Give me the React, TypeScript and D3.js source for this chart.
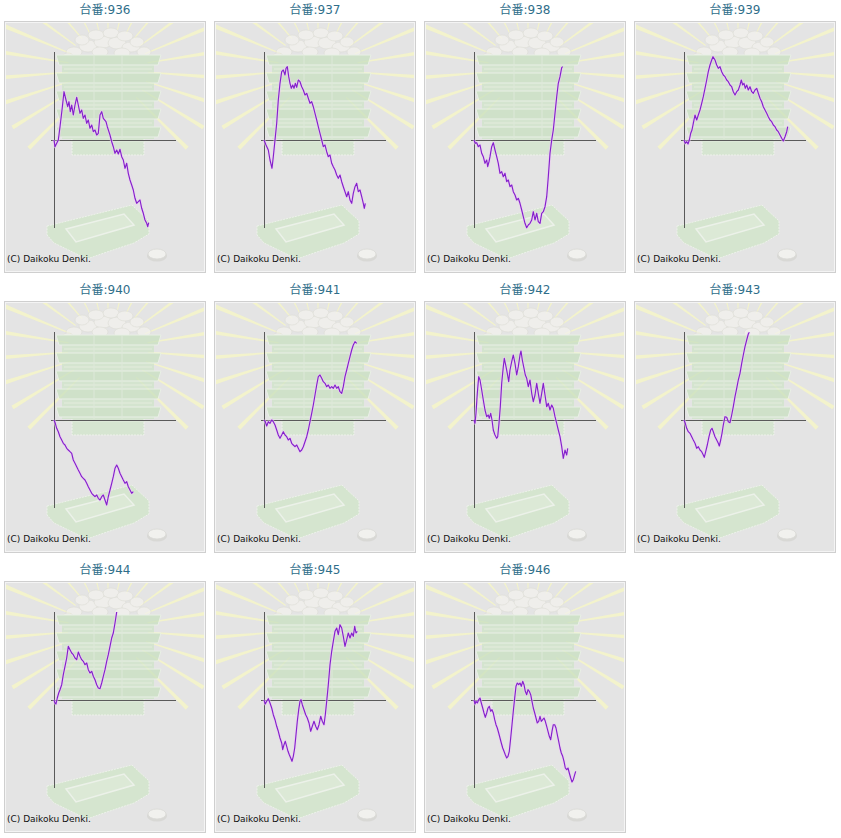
import * as d3 from 'd3';

// 台番ごとの差枚グラフ (x: ゲーム数, y: 差枚)
const machineNumbers = ['936', '937', '938', '939', '940', '941', '942', '943', '944', '945', '946'];

type Pt = [number, number];

const s936: Pt[] = [[0,0],[100,-670],[270,-330],[430,0],[600,1330],[800,3000],[1000,4830],[1200,4000],[1370,3330],[1500,3830],[1630,2830],[1770,3500],[1930,2500],[2100,3500],[2270,4270],[2430,3500],[2600,2670],[2770,3000],[2930,2170],[3100,2500],[3270,1670],[3430,2000],[3600,1170],[3770,1500],[3930,830],[4100,1000],[4270,500],[4430,670],[4600,2500],[4770,2830],[4930,2170],[5200,1830],[5330,1330],[5600,500],[5770,-170],[5930,-670],[6100,-1330],[6270,-1000],[6430,-1400],[6600,-930],[6770,-1670],[6930,-2000],[7100,-2830],[7270,-2330],[7430,-3330],[7600,-4000],[7770,-4500],[7930,-5000],[8100,-5830],[8270,-6330],[8430,-6170],[8600,-6000],[8770,-6830],[8930,-7330],[9100,-8000],[9270,-8330],[9370,-8670],[9470,-8270]];
const s937: Pt[] = [[0,0],[200,-500],[430,-1000],[600,-2000],[800,-2830],[930,-1670],[1100,0],[1270,1670],[1430,4000],[1600,5670],[1770,6830],[1930,7000],[2100,6500],[2200,7170],[2330,7330],[2470,6330],[2600,5670],[2730,5170],[2870,5500],[3000,5170],[3130,5670],[3270,5270],[3430,6000],[3600,5830],[3770,5330],[3930,5000],[4100,4500],[4270,4670],[4430,4170],[4600,3670],[4770,3830],[4930,3330],[5100,2670],[5270,2000],[5430,1330],[5600,670],[5770,0],[5930,-670],[6100,-500],[6270,-1170],[6430,-1670],[6600,-1500],[6770,-2330],[6930,-2670],[7100,-3000],[7270,-3500],[7430,-3830],[7600,-3500],[7770,-4170],[7930,-4670],[8100,-5170],[8270,-5670],[8430,-5170],[8600,-6000],[8770,-6330],[8930,-5330],[9100,-4670],[9270,-4330],[9430,-5170],[9600,-5000],[9770,-5670],[9930,-6330],[10030,-6830],[10130,-6330]];
const s938: Pt[] = [[0,0],[130,-330],[270,-270],[430,-670],[600,-500],[770,-1330],[930,-1670],[1100,-2330],[1270,-2000],[1370,-2670],[1500,-2170],[1600,-1670],[1770,-670],[1930,-270],[2100,-1000],[2270,-1670],[2430,-2330],[2600,-3330],[2770,-3170],[2930,-3670],[3100,-3330],[3270,-4170],[3430,-4000],[3600,-4670],[3770,-4500],[3930,-5170],[4100,-5500],[4270,-6000],[4430,-5830],[4600,-6330],[4770,-7000],[4930,-7670],[5100,-8330],[5270,-8770],[5430,-8500],[5600,-8330],[5770,-8000],[5930,-7170],[6100,-8000],[6270,-7330],[6430,-8170],[6600,-8330],[6770,-7330],[6930,-7170],[7100,-6670],[7270,-5670],[7430,-3670],[7600,-1330],[7770,0],[7930,1000],[8100,2670],[8270,4330],[8430,5670],[8600,6330],[8770,7230],[8870,7330]];
const s939: Pt[] = [[0,0],[130,-330],[270,-170],[400,-400],[530,0],[670,670],[800,1000],[930,1670],[1100,2500],[1270,2000],[1430,2500],[1600,3000],[1770,3670],[1930,4330],[2100,5170],[2270,6000],[2430,6830],[2600,7500],[2770,8000],[2900,8330],[3100,8000],[3270,7500],[3430,7170],[3600,7330],[3770,6830],[3930,6500],[4100,6330],[4270,6000],[4430,5830],[4600,5500],[4770,5330],[4930,4830],[5100,4500],[5270,4830],[5430,5000],[5600,5500],[5730,6000],[5870,5500],[6000,5670],[6130,5170],[6270,5500],[6430,5000],[6600,5330],[6770,4830],[6930,4670],[7100,5000],[7270,5170],[7430,4670],[7600,4170],[7770,3830],[7930,3330],[8100,3000],[8270,2670],[8430,2330],[8600,2000],[8770,1830],[8930,1500],[9100,1330],[9270,1000],[9430,830],[9600,500],[9770,170],[9930,-100],[10100,330],[10270,830],[10370,1330]];
const s940: Pt[] = [[0,0],[130,-330],[270,-830],[430,-1170],[600,-1670],[770,-2000],[930,-2330],[1100,-2500],[1270,-2830],[1430,-3000],[1600,-3170],[1770,-3330],[1930,-4000],[2100,-4330],[2270,-4670],[2430,-5000],[2600,-5330],[2770,-5670],[2930,-5830],[3100,-6000],[3270,-6330],[3430,-6670],[3600,-7000],[3770,-7330],[3930,-7500],[4100,-7670],[4270,-7500],[4430,-7830],[4600,-8000],[4770,-7670],[4930,-7500],[5100,-8000],[5270,-8500],[5430,-7670],[5600,-7000],[5770,-6330],[5930,-5670],[6100,-4830],[6270,-4500],[6430,-4830],[6600,-5330],[6770,-5670],[6930,-6000],[7100,-6330],[7270,-6170],[7430,-6670],[7600,-7000],[7770,-7330],[7930,-7170]];
const s941: Pt[] = [[0,0],[130,-170],[270,-600],[430,-170],[600,-330],[770,0],[930,-170],[1100,-500],[1270,-1000],[1430,-1500],[1600,-1830],[1770,-1500],[1930,-1170],[2100,-1500],[2270,-1670],[2430,-2000],[2600,-1830],[2770,-2330],[2930,-2500],[3100,-2670],[3270,-2500],[3430,-2830],[3600,-3170],[3770,-3000],[3930,-2670],[4100,-2170],[4270,-1670],[4430,-1000],[4600,-170],[4770,670],[4930,1500],[5100,2500],[5270,3500],[5430,4330],[5600,4500],[5770,4170],[5930,3830],[6100,3670],[6270,3330],[6430,3500],[6600,3170],[6770,3330],[6930,3170],[7100,3500],[7270,3170],[7430,3330],[7600,2830],[7770,2670],[7930,3330],[8100,4330],[8270,5000],[8430,5670],[8600,6330],[8770,7000],[8930,7500],[9100,7830],[9270,7670]];
const s942: Pt[] = [[0,0],[100,-330],[200,670],[330,2670],[470,4330],[600,4000],[770,3000],[930,2000],[1100,1000],[1270,330],[1430,500],[1530,170],[1670,670],[1800,0],[1930,-1000],[2100,-1500],[2270,-1830],[2370,-1670],[2500,-330],[2630,1330],[2770,3670],[2930,5330],[3030,6170],[3200,5330],[3330,4670],[3470,3830],[3600,5000],[3770,5830],[3930,6500],[4100,5670],[4270,4500],[4430,5330],[4600,6500],[4700,6900],[4830,6000],[5000,5170],[5130,4500],[5270,4170],[5430,3330],[5600,4000],[5770,2670],[5930,1830],[6100,2500],[6270,3670],[6430,2670],[6600,1670],[6770,2670],[6930,3670],[7100,2500],[7270,1330],[7430,1670],[7600,1000],[7770,1500],[7930,1170],[8100,330],[8270,-330],[8430,-1000],[8600,-1670],[8770,-2670],[8930,-3830],[9100,-3000],[9270,-3500],[9370,-2830]];
const s943: Pt[] = [[0,0],[130,-330],[270,-830],[430,-1170],[600,-1330],[770,-1670],[930,-2000],[1100,-2330],[1270,-2830],[1430,-2670],[1600,-3000],[1770,-3170],[1930,-3500],[2030,-3730],[2170,-3170],[2330,-2500],[2500,-1670],[2670,-1000],[2800,-830],[2930,-1170],[3100,-1670],[3270,-2000],[3430,-2330],[3530,-2600],[3670,-2000],[3800,-1330],[3930,-500],[4100,330],[4270,270],[4430,-170],[4600,-270],[4770,500],[4930,1330],[5100,2330],[5270,3170],[5430,4000],[5600,4670],[5770,5670],[5930,6500],[6100,7330],[6270,8000],[6430,8600],[6530,8770]];
const s944: Pt[] = [[0,0],[100,-300],[200,-400],[330,200],[470,700],[600,1030],[770,1530],[930,2530],[1100,3370],[1270,4200],[1430,5370],[1600,5030],[1770,4700],[1930,4530],[2100,4200],[2270,4030],[2430,4800],[2600,4370],[2770,4030],[2930,3870],[3100,3530],[3270,3700],[3430,3030],[3600,2700],[3770,2870],[3930,2370],[4100,2030],[4270,1530],[4430,1200],[4600,1130],[4770,1700],[4930,2370],[5100,3030],[5270,3870],[5430,4530],[5600,5370],[5770,6200],[5930,6700],[6100,7700],[6270,8800]];
const s945: Pt[] = [[0,0],[130,-400],[270,-130],[430,130],[600,-300],[770,-800],[930,-1470],[1100,-1970],[1270,-2630],[1430,-3130],[1600,-3800],[1770,-4300],[1870,-4970],[2000,-4470],[2130,-4130],[2270,-4630],[2400,-5130],[2530,-5470],[2670,-5800],[2800,-6130],[2930,-5630],[3070,-4800],[3200,-3470],[3330,-2130],[3470,-970],[3600,-130],[3700,30],[3830,-470],[4000,-970],[4170,-1470],[4330,-1800],[4500,-2300],[4670,-3130],[4830,-2630],[5000,-2130],[5170,-2630],[5330,-2970],[5500,-2470],[5670,-1630],[5830,-2130],[6000,-2470],[6130,-1470],[6270,-130],[6430,1530],[6600,3530],[6770,4870],[6930,5870],[7100,6870],[7270,7200],[7430,6530],[7600,7530],[7770,7200],[7930,6370],[8100,5370],[8270,6030],[8430,6700],[8600,6200],[8770,6700],[8930,6370],[9070,7370],[9200,6700],[9330,6870]];
const s946: Pt[] = [[0,0],[100,-400],[200,-130],[330,-300],[470,30],[600,200],[730,-300],[870,-800],[1000,-1300],[1130,-1730],[1270,-1300],[1400,-800],[1530,-630],[1670,-1130],[1800,-970],[1930,-1300],[2070,-1970],[2200,-2470],[2330,-2800],[2470,-3300],[2600,-3800],[2730,-4300],[2870,-4800],[3000,-5130],[3130,-5470],[3270,-5800],[3400,-5630],[3530,-5130],[3670,-3800],[3800,-2470],[3930,-1130],[4070,200],[4200,1370],[4330,1700],[4470,1530],[4600,1700],[4730,1370],[4870,1870],[5000,1530],[5130,870],[5270,530],[5400,1030],[5530,870],[5670,530],[5800,-130],[5930,-800],[6070,-1300],[6200,-1800],[6330,-2300],[6470,-2130],[6600,-1630],[6730,-2130],[6870,-1970],[7000,-1800],[7130,-2130],[7270,-2630],[7400,-3130],[7530,-3630],[7670,-3970],[7800,-3130],[7930,-2470],[8070,-2470],[8200,-2800],[8330,-3470],[8470,-4130],[8600,-4800],[8730,-5300],[8870,-5630],[9000,-6130],[9130,-6800],[9270,-6970],[9400,-6800],[9530,-7300],[9670,-7800],[9800,-8200],[9930,-7970],[10070,-7470],[10170,-7130]];

const seriesList: Pt[][] = [s936, s937, s938, s939, s940, s941, s942, s943, s944, s945, s946];

const gameDomain: [number, number] = [0, 12200];
const coinDomain: [number, number] = [-8800, 8800];

// 背景のイラスト（光線の角度・メダルの山）
const rayAngles = [-45, -31.5, -18, -4.5, 9, 22.5, 36, 49.5, 63, 76.5, 90, 103.5, 117, 130.5, 144, 157.5, 171, 184.5, 198, 211.5, 225];
const coins: [number, number, number, number][] = [
  [70, 31, 8, 5], [84, 25, 9, 6], [99, 21, 9, 6], [113, 22, 9, 6], [127, 26, 9, 5],
  [140, 31, 7, 5], [78, 19, 7, 5], [92, 14, 8, 5], [107, 12, 8, 5], [121, 15, 8, 5], [133, 21, 7, 5],
  [64, 35, 5, 3], [96, 31, 8, 5], [118, 32, 8, 5],
];
const trayRows = [32, 50, 68, 86, 104];

const PW = 202;
const PH = 252;

function Backdrop() {
  const cx = 104;
  const cy = 48;
  return (
    <g>
      <rect x={0} y={0} width={PW} height={PH} fill="#e4e4e4" />
      <g clipPath="url(#panelClip)" opacity={0.85}>
        {rayAngles.map((a, i) => {
          const r = (a * Math.PI) / 180;
          const ux = Math.cos(r);
          const uy = -Math.sin(r);
          const px = -uy;
          const py = ux;
          const r0 = 40;
          const r1 = 112;
          const w0 = 0.5;
          const w1 = 2.1;
          const pts = [
            [cx + ux * r0 + px * w0, cy + uy * r0 + py * w0],
            [cx + ux * r1 + px * w1, cy + uy * r1 + py * w1],
            [cx + ux * r1 - px * w1, cy + uy * r1 - py * w1],
            [cx + ux * r0 - px * w0, cy + uy * r0 - py * w0],
          ];
          return <polygon key={i} points={pts.map((p) => p.join(',')).join(' ')} fill="#f6f6c8" />;
        })}
      </g>
      <g opacity={0.72}>
        {/* coin pile */}
        {coins.map(([x, y, rx, ry], i) => (
          <ellipse key={i} cx={x} cy={y} rx={rx} ry={ry} fill="#f4f3ee" stroke="#dcdcd4" strokeWidth={0.7} />
        ))}
        {/* stack of trays */}
        <rect x={68} y={112} width={72} height={22} fill="#d2e6cb" stroke="#f2f8ee" strokeWidth={1} strokeDasharray="2 1" />
        <rect x={58} y={34} width={92} height={84} fill="#cfe4c7" />
        {trayRows.map((y, i) => (
          <g key={i}>
            <polygon points={`52,${y + 2} 157,${y + 2} 154,${y + 12} 55,${y + 12}`} fill="#c8e0bf" stroke="#ecf5e8" strokeWidth={1} />
            <line x1={60} y1={y + 16} x2={148} y2={y + 16} stroke="#e4f0de" strokeWidth={1.2} />
          </g>
        ))}
        <line x1={90} y1={34} x2={90} y2={118} stroke="#dcebd6" strokeWidth={1} />
        <line x1={118} y1={34} x2={118} y2={118} stroke="#dcebd6" strokeWidth={1} />
        {/* bottom tray */}
        <polygon points="43,205 128,184 145,200 145,213 130,222 100,232 83,238 50,222 43,214" fill="#d0e6c8" stroke="#f2f8ee" strokeWidth={1} strokeDasharray="2 1" />
        <polygon points="62,208 120,193 130,204 72,221" fill="#d9ecd2" stroke="#f0f7ec" strokeWidth={1.5} />
        {/* small coin */}
        <ellipse cx={153} cy={235} rx={10} ry={5.5} fill="#d4d4d0" />
        <ellipse cx={153} cy={233} rx={9} ry={5} fill="#f6f6f2" stroke="#d6d6d0" strokeWidth={0.8} />
      </g>
    </g>
  );
}

function Panel({ name, data, col, row }: { name: string; data: Pt[]; col: number; row: number }) {
  const ox = 4 + col * 210;
  const oy = 21 + row * 280;
  const x = d3.scaleLinear().domain(gameDomain).range([50, 172]);
  const y = d3.scaleLinear().domain(coinDomain).range([207, 31]);
  const line = d3.line<Pt>().x((d) => x(d[0])).y((d) => y(d[1]));
  const d = line(data) ?? '';
  return (
    <g>
      <text x={ox + PW / 2} y={oy - 7} textAnchor="middle" fontSize={12} fill="#2f6e8a" fontFamily="'DejaVu Sans', 'Noto Sans CJK JP', sans-serif">
        台番:{name}
      </text>
      <g transform={`translate(${ox},${oy})`}>
        <Backdrop />
        <rect x={0.5} y={0.5} width={PW - 1} height={PH - 1} fill="none" stroke="#cfcfcf" strokeWidth={1} />
        <rect x={1.5} y={1.5} width={PW - 3} height={PH - 3} fill="none" stroke="#f4f4f4" strokeWidth={1} />
        <line x1={50.5} y1={31} x2={50.5} y2={207} stroke="#5a5a5a" strokeWidth={1} />
        <line x1={47} y1={119.5} x2={172} y2={119.5} stroke="#5a5a5a" strokeWidth={1} />
        <path d={d} fill="none" stroke="#ecccf4" strokeWidth={3} strokeOpacity={0.6} strokeLinejoin="round" />
        <path d={d} fill="none" stroke="#8420cc" strokeWidth={1.15} strokeLinejoin="round" />
        <text x={3} y={241} fontSize={9} fill="#111" fontFamily="'DejaVu Sans', sans-serif">
          (C) Daikoku Denki.
        </text>
      </g>
    </g>
  );
}

export default function App() {
  return (
    <svg width={841} height={838} style={{ position: 'absolute', left: 0, top: 0, background: '#fff' }}>
      <defs>
        <clipPath id="panelClip">
          <rect x={2} y={2} width={PW - 4} height={PH - 4} />
        </clipPath>
      </defs>
      {machineNumbers.map((name, i) => (
        <Panel key={name} name={name} data={seriesList[i]} col={i % 4} row={Math.floor(i / 4)} />
      ))}
    </svg>
  );
}
